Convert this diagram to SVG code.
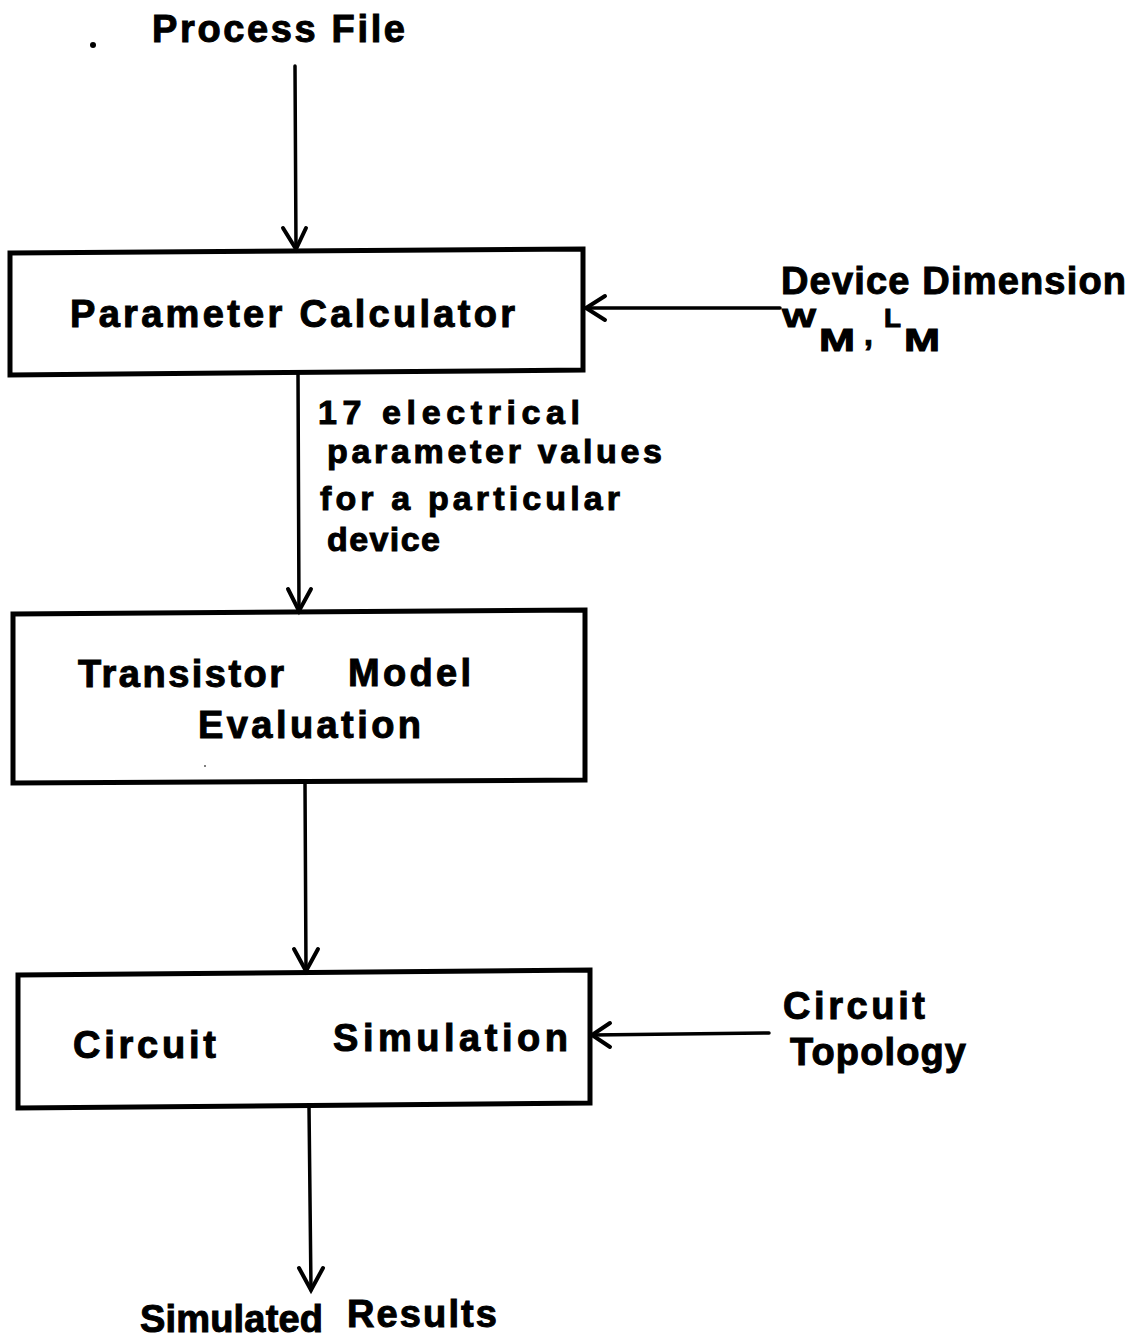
<svg xmlns="http://www.w3.org/2000/svg" width="1141" height="1341" viewBox="0 0 1141 1341">
  <style>
    .box { fill: none; stroke: #000; stroke-width: 5; stroke-linejoin: miter; }
    .wire { fill: none; stroke: #000; stroke-width: 3.5; stroke-linecap: round; }
    .head { fill: none; stroke: #000; stroke-width: 4; stroke-linecap: round; stroke-linejoin: miter; }
    text { font-family: "Liberation Sans", Arial, Helvetica, sans-serif; font-weight: bold; font-size: 38px; fill: #000; stroke: #000; stroke-width: 1; }
    .note { font-size: 34px; }
    .sym { font-size: 26px; }
    .sub { font-size: 32px; }
  </style>
  <rect width="1141" height="1341" fill="#fff"/>

  <!-- connectors -->
  <g id="connectors">
    <!-- process file into parameter calculator -->
    <line class="wire" x1="295" y1="66" x2="296" y2="249"/>
    <polyline class="head" points="283,228 296,249 306,228"/>
    <!-- device dimension into parameter calculator -->
    <line class="wire" x1="780" y1="308" x2="586" y2="308"/>
    <polyline class="head" points="605,296 586,308 605,320"/>
    <!-- parameter calculator to transistor model evaluation -->
    <line class="wire" x1="298" y1="373" x2="299" y2="611"/>
    <polyline class="head" points="288,589 299,611 311,589"/>
    <!-- transistor model evaluation to circuit simulation -->
    <line class="wire" x1="305" y1="783" x2="306" y2="971"/>
    <polyline class="head" points="294,949 306,971 318,949"/>
    <!-- circuit topology into circuit simulation -->
    <line class="wire" x1="769" y1="1033" x2="592" y2="1035"/>
    <polyline class="head" points="610,1023 592,1035 610,1047"/>
    <!-- circuit simulation to simulated results -->
    <line class="wire" x1="309" y1="1106" x2="311" y2="1290"/>
    <polyline class="head" points="299,1268 311,1290 323,1268"/>
  </g>

  <!-- input label at top -->
  <g id="process-file">
    <circle cx="93" cy="45" r="3" fill="#000"/>
    <text x="152" y="42" textLength="253" lengthAdjust="spacing">Process File</text>
  </g>

  <g id="parameter-calculator">
    <polygon class="box" points="10,253 583,249 583,370 10,375"/>
    <text x="70" y="327" textLength="445" lengthAdjust="spacing">Parameter  Calculator</text>
  </g>

  <g id="device-dimension">
    <text x="781" y="294" textLength="345" lengthAdjust="spacing">Device Dimension</text>
    <text class="sym" x="782" y="327" textLength="34" lengthAdjust="spacingAndGlyphs">W</text>
    <text class="sub" x="819" y="351" textLength="36" lengthAdjust="spacingAndGlyphs">M</text>
    <text class="sub" x="864" y="345">,</text>
    <text class="sym" x="884" y="327" textLength="17" lengthAdjust="spacingAndGlyphs">L</text>
    <text class="sub" x="904" y="351" textLength="36" lengthAdjust="spacingAndGlyphs">M</text>
  </g>

  <g id="parameter-values-label">
    <text class="note" x="318" y="424" textLength="262" lengthAdjust="spacing">17 electrical</text>
    <text class="note" x="327" y="463" textLength="335" lengthAdjust="spacing">parameter values</text>
    <text class="note" x="320" y="510" textLength="300" lengthAdjust="spacing">for a particular</text>
    <text class="note" x="327" y="551" textLength="113" lengthAdjust="spacing">device</text>
  </g>

  <g id="transistor-model-evaluation">
    <polygon class="box" points="13,614 585,610 585,780 13,783"/>
    <text x="78" y="687" textLength="206" lengthAdjust="spacing">Transistor</text>
    <text x="348" y="686" textLength="123" lengthAdjust="spacing">Model</text>
    <text x="198" y="738" textLength="223" lengthAdjust="spacing">Evaluation</text>
    <circle cx="205" cy="766" r="1" fill="#555"/>
  </g>

  <g id="circuit-simulation">
    <polygon class="box" points="18,975 590,970 590,1103 18,1108"/>
    <text x="73" y="1058" textLength="143" lengthAdjust="spacing">Circuit</text>
    <text x="333" y="1051" textLength="235" lengthAdjust="spacing">Simulation</text>
  </g>

  <g id="circuit-topology">
    <text x="783" y="1019" textLength="142" lengthAdjust="spacing">Circuit</text>
    <text x="790" y="1065" textLength="176" lengthAdjust="spacing">Topology</text>
  </g>

  <g id="simulated-results">
    <text x="140" y="1332" textLength="183" lengthAdjust="spacing">Simulated</text>
    <text x="347" y="1327" textLength="150" lengthAdjust="spacing">Results</text>
  </g>
</svg>
